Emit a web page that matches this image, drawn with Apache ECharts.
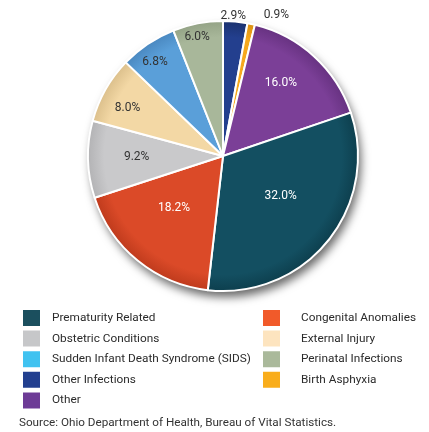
<!DOCTYPE html>
<html><head><meta charset="utf-8">
<script src="https://cdn.jsdelivr.net/npm/echarts@6/dist/echarts.min.js"></script>
<style>html,body{margin:0;padding:0;background:#fff}#c{width:429px;height:432px}</style>
</head><body><div id="c"></div>
<script>
// Data (clockwise from 12 o'clock)
const categories = ['Other Infections','Birth Asphyxia','Other','Prematurity Related','Congenital Anomalies','Obstetric Conditions','External Injury','Sudden Infant Death Syndrome (SIDS)','Perinatal Infections'];
const values = [2.9, 0.9, 16.0, 32.0, 18.2, 9.2, 8.0, 6.8, 6.0];
const sliceColors = ['#233f8e','#f6a81d','#7b3f97','#134f61','#db4a28','#c9c9cb','#f3d8a5','#5a9fd9','#a8b79a'];
const rimColors = ['#1b326f','#d98f12','#673281','#0d3f4e','#bf3b1d','#b3b3b5','#dcc08c','#4a88c0','#94a386'];
const labelColors = ['#333','#333','#fff','#fff','#fff','#333','#333','#333','#333'];
const labelRadius = [1.04, 1.12, 0.69, 0.52, 0.53, 0.64, 0.79, 0.86, 0.90];
const labelAngleShift = [-1, 8.6, -4, -4, 4, 1, -3, -2, -1.5];
const legendLeft = ['Prematurity Related','Obstetric Conditions','Sudden Infant Death Syndrome (SIDS)','Other Infections','Other'];
const legendRight = ['Congenital Anomalies','External Injury','Perinatal Infections','Birth Asphyxia'];
const legendColors = {'Prematurity Related':'#1b4f5e','Obstetric Conditions':'#c6c7c9','Sudden Infant Death Syndrome (SIDS)':'#40c2f0','Other Infections':'#223f8f','Other':'#6d3b96','Congenital Anomalies':'#f15a2a','External Injury':'#fde4bf','Perinatal Infections':'#aab99b','Birth Asphyxia':'#f9ad1b'};
const sourceText = 'Source: Ohio Department of Health, Bureau of Vital Statistics.';

const FONT = 'Roboto, "Liberation Sans", sans-serif';
const CX = 223, CY = 156, R = 135;

const total = values.reduce((a,b)=>a+b,0);
const midAngles = [];
let acc = 0;
values.forEach(v => { midAngles.push((acc + v/2) / total * 360); acc += v; });

function sliceFill(i){
  return {type:'radial', x:CX, y:CY, r:R, global:true, colorStops:[
    {offset:0, color:sliceColors[i]},{offset:0.88, color:sliceColors[i]},{offset:1, color:rimColors[i]}]};
}

const chart = echarts.init(document.getElementById('c'), null, {renderer:'canvas'});
function legendData(list){ return list.map(n => ({name:n, itemStyle:{color:legendColors[n]}})); }
function legendCfg(left, textPad, list){
  return {
    left:left, top:308, data:legendData(list),
    orient:'vertical', itemWidth:19, itemHeight:18, itemGap:0.6, icon:'rect',
    textStyle:{fontFamily:FONT, fontSize:11.8, color:'#2b2b2b', padding:[0,0,0,textPad], lineHeight:18},
    selectedMode:false, padding:0
  };
}
chart.setOption({
  animation:false,
  title:{text:sourceText, left:19, top:417, textStyle:{fontFamily:FONT, fontSize:11.7, fontWeight:'normal', color:'#333'}, padding:0},
  legend:[ legendCfg(21, 6, legendLeft), legendCfg(261, 15, legendRight) ],
  series:[
    {
      type:'pie', name:'shadow', silent:true, z:1,
      center:[CX,CY], radius:R, label:{show:false}, labelLine:{show:false},
      itemStyle:{color:'#fff', shadowBlur:10, shadowOffsetX:3, shadowOffsetY:6, shadowColor:'rgba(0,0,0,0.6)'},
      data:[{value:1, name:'_bg'}], legendHoverLink:false
    },
    {
      type:'pie', name:'deaths', z:2,
      center:[CX,CY], radius:R, startAngle:90, clockwise:true,
      avoidLabelOverlap:false,
      itemStyle:{borderColor:'#fff', borderWidth:2},
      label:{show:true, position:'inside', fontFamily:FONT, fontSize:12,
        formatter: p => p.value.toFixed(1) + '%'},
      labelLine:{show:false},
      labelLayout: function(p){
        const i = p.dataIndex;
        const a = (midAngles[i] + labelAngleShift[i]) * Math.PI/180;
        const r = R * labelRadius[i];
        return {x: CX + r*Math.sin(a), y: CY - r*Math.cos(a), align:'center', verticalAlign:'middle'};
      },
      data: categories.map((n,i)=>({name:n, value:values[i], itemStyle:{color:sliceFill(i)}, label:{color:labelColors[i]}}))
    }
  ]
});
</script></body></html>
